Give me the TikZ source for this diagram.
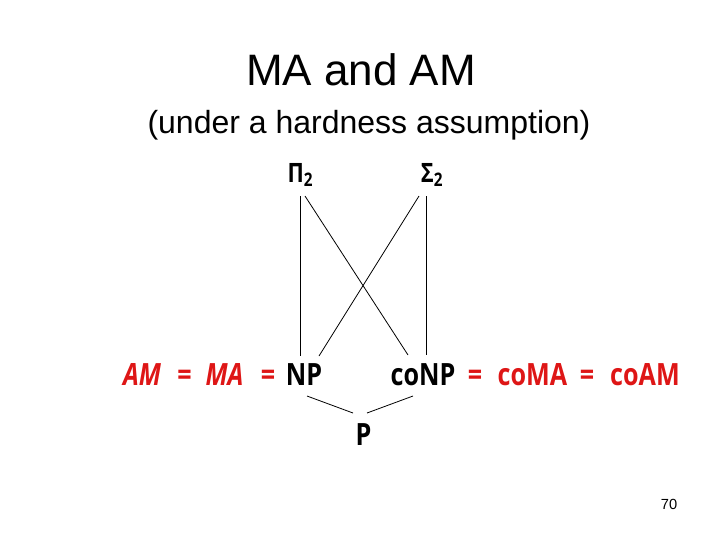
\documentclass[tikz,border=0pt]{standalone}
\usepackage{fontspec}
\usepackage{tikz}
\usetikzlibrary{positioning, calc}
\setmainfont{Liberation Sans}
\newfontfamily\comicfont[FakeStretch=0.82]{Open Sans}
\definecolor{myred}{RGB}{222,22,22}
\definecolor{mydark}{RGB}{0,0,0}
\tikzset{
  classnode/.style={inner sep=0pt, anchor=base, text=mydark,
    font=\comicfont\bfseries\fontsize{23}{27}\selectfont},
  hiernode/.style={inner sep=0pt, anchor=base, text=mydark,
    font=\comicfont\bfseries\fontsize{20}{24}\selectfont},
  eqnode/.style={inner sep=0pt, anchor=base, text=myred,
    font=\comicfont\bfseries\fontsize{23}{27}\selectfont},
  link/.style={draw=mydark, line width=0.6pt}
}

\begin{document}
\begin{tikzpicture}[x=0.75pt,y=-0.75pt]
  \useasboundingbox (0,0) rectangle (720,540);

  % Title and subtitle
  \node[inner sep=0pt, anchor=base, font=\fontsize{33}{38}\selectfont] (title) at (361,85) {MA and AM};
  \node[inner sep=0pt, anchor=base, font=\fontsize{24}{28}\selectfont] (subtitle) at (369,133) {(under a hardness assumption)};

  % Classes of the hierarchy
  \node[hiernode] (pi) at (300.5,182) {Π\textsubscript{2}};
  \node[hiernode] (sigma) at (432,182) {Σ\textsubscript{2}};
  \node[classnode] (np) at (304,385) {NP};
  \node[classnode] (conp) at (423,385) {coNP};
  \node[classnode] (p) at (363.5,445) {P};

  % Equalities
  \node[eqnode] (am) at (142,385) {\itshape AM};
  \node[eqnode] (eqa) at (184.5,385) {=};
  \node[eqnode] (ma) at (224.5,385) {\itshape MA};
  \node[eqnode] (eqb) at (268,385) {=};
  \node[eqnode] (eqc) at (475,385) {=};
  \node[eqnode] (coma) at (532.5,385) {coMA};
  \node[eqnode] (eqd) at (587,385) {=};
  \node[eqnode] (coam) at (645,385) {coAM};

  % Inclusions
  \draw[link] ($(pi.base)+(0,14)$) -- ($(np.base)+(-3.5,-29)$);
  \draw[link] ($(pi.base)+(4.5,14)$) -- ($(conp.base)+(-15,-30)$);
  \draw[link] ($(sigma.base)+(-5.5,14)$) -- ($(conp.base)+(3.5,-30)$);
  \draw[link] ($(sigma.base)+(-13,14)$) -- ($(np.base)+(15,-29)$);
  \draw[link] ($(np.base)+(3,11)$) -- ($(p.base)+(-10.5,-32)$);
  \draw[link] ($(p.base)+(3.5,-32)$) -- ($(conp.base)+(-10,11)$);

  % Page number
  \node[inner sep=0pt, anchor=base, font=\fontsize{11}{13}\selectfont] (pagenum) at (669,509) {70};
\end{tikzpicture}
\end{document}
